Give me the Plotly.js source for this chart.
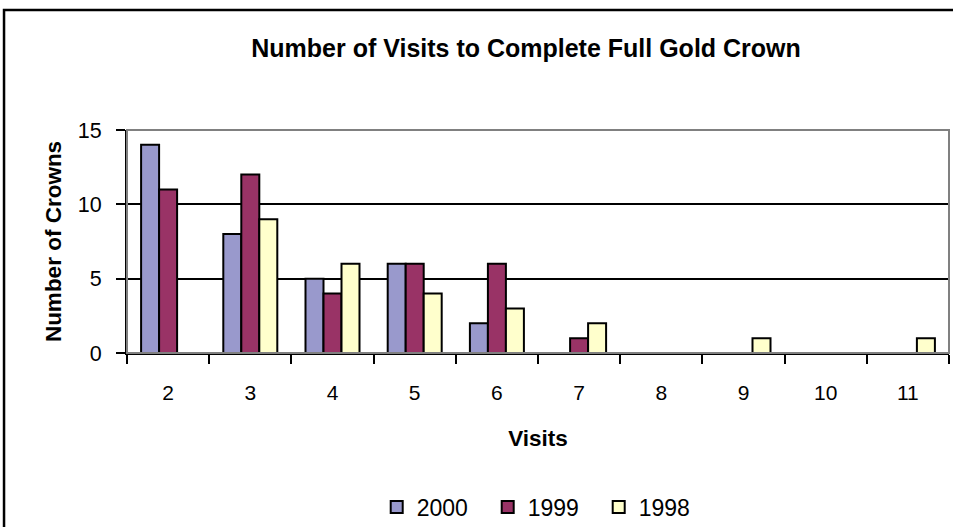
<!DOCTYPE html>
<html>
<head>
<meta charset="utf-8">
<script src="https://cdn.plot.ly/plotly-3.0.1.min.js"></script>
<style>
  html, body { margin: 0; padding: 0; background: #ffffff; }
  #chart { width: 953px; height: 527px; }
</style>
</head>
<body>
<div id="chart"></div>
<script>
// Number of visits needed to finish a full gold crown, per year
const visits = ['2', '3', '4', '5', '6', '7', '8', '9', '10', '11'];
const crowns2000 = [14, 8, 5, 6, 2, 0, 0, 0, 0, 0];
const crowns1999 = [11, 12, 4, 6, 6, 1, 0, 0, 0, 0];
const crowns1998 = [0, 9, 6, 4, 3, 2, 0, 1, 0, 1];
const yTicks = [0, 5, 10, 15];

const FONT = 'Liberation Sans, Arial, sans-serif';

function series(name, values, color) {
  return {
    type: 'bar',
    name: name,
    x: visits,
    y: values,
    marker: { color: color, line: { color: '#000000', width: 2 } },
    hoverinfo: 'x+y+name'
  };
}

const data = [
  series('2000', crowns2000, '#9999CC'),
  series('1999', crowns1999, '#993366'),
  series('1998', crowns1998, '#FFFFCC')
];

const layout = {
  width: 953,
  height: 527,
  margin: { l: 127, r: 4, t: 130, b: 174, autoexpand: false },
  paper_bgcolor: '#ffffff',
  plot_bgcolor: '#ffffff',
  font: { family: FONT, color: '#000000', size: 21 },
  barmode: 'group',
  bargap: 0.343,
  bargroupgap: 0,
  showlegend: true,
  title: {
    text: '<b>Number of Visits to Complete Full Gold Crown</b>',
    font: { family: FONT, size: 25, color: '#000000' },
    x: 0.552, xanchor: 'center',
    y: 0.909, yanchor: 'middle'
  },
  xaxis: {
    type: 'category',
    tickson: 'boundaries',
    ticks: 'outside',
    ticklen: 9,
    tickwidth: 2,
    tickcolor: '#000000',
    ticklabelstandoff: 20,
    showline: true,
    linecolor: '#000000',
    linewidth: 2,
    showgrid: false,
    automargin: false,
    tickfont: { family: FONT, size: 21 },
    title: {
      text: '<b>Visits</b>',
      font: { family: FONT, size: 22.5 },
      standoff: 27
    }
  },
  yaxis: {
    range: [0, 15],
    tickvals: yTicks,
    ticktext: yTicks.map(String),
    ticks: 'outside',
    ticklen: 9,
    tickwidth: 2,
    tickcolor: '#000000',
    ticklabelstandoff: 10,
    showline: true,
    linecolor: '#000000',
    linewidth: 2,
    showgrid: true,
    gridcolor: '#000000',
    gridwidth: 2,
    zeroline: false,
    automargin: false,
    tickfont: { family: FONT, size: 21.5 },
    title: {
      text: '<b>Number of Crowns</b>',
      font: { family: FONT, size: 22.5 },
      standoff: 10
    }
  },
  legend: {
    orientation: 'h',
    xref: 'container', yref: 'container',
    x: 0.57, xanchor: 'center',
    y: 0.038, yanchor: 'middle',
    font: { family: FONT, size: 23 },
    itemwidth: 30,
    entrywidth: 66,
    entrywidthmode: 'pixels',
    traceorder: 'normal'
  },
  shapes: [
    // plot area frame (grey top and right edges)
    {
      type: 'rect', xref: 'paper', yref: 'paper',
      x0: 0, x1: 1, y0: 0, y1: 1,
      line: { color: '#808080', width: 2 },
      layer: 'above'
    },
    // outer chart border, running off the right and bottom edges
    {
      type: 'rect', xref: 'paper', yref: 'paper',
      x0: -0.1496, x1: 1.05, y0: -0.85, y1: 1.538,
      line: { color: '#000000', width: 2.5 },
      layer: 'above'
    }
  ]
};

Plotly.newPlot('chart', data, layout, { displayModeBar: false, staticPlot: true });
</script>
</body>
</html>
